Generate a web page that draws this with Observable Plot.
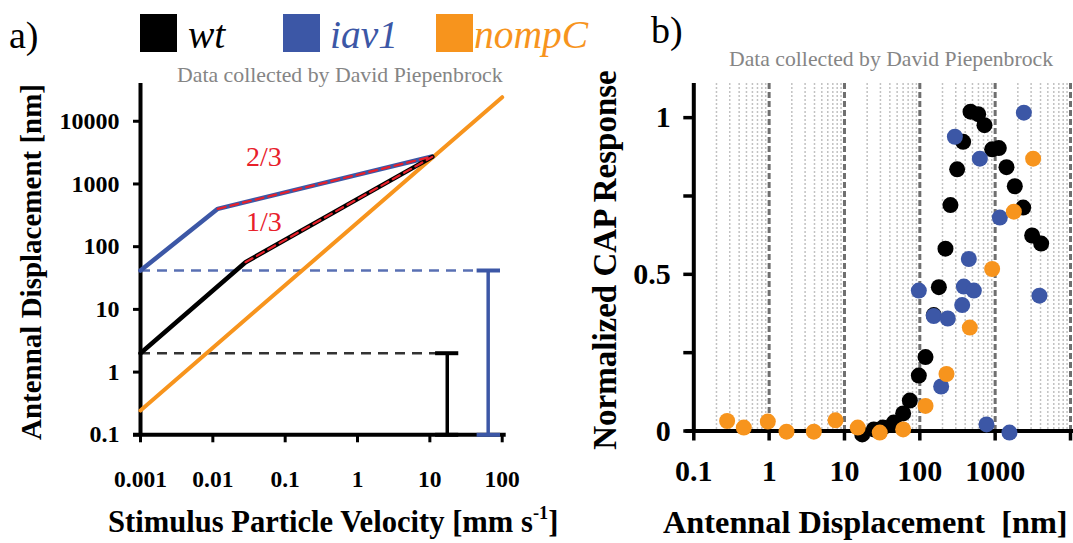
<!DOCTYPE html>
<html><head><meta charset="utf-8">
<script src="https://cdn.jsdelivr.net/npm/d3@7"></script>
<script src="https://cdn.jsdelivr.net/npm/@observablehq/plot@0.6"></script>
<style>
body{margin:0;background:#fff;}
#fig{position:relative;width:1073px;height:543px;overflow:hidden;font-family:"Liberation Serif","Times New Roman",serif;background:#fff;}
#fig svg{position:absolute;top:0;overflow:visible;}
#fig svg.panelA g[aria-label="y-axis tick label"]{font-size:24px;}
#fig svg.panelA g[aria-label="x-axis tick label"]{font-size:23.5px;}
#fig svg.panelB g[aria-label="y-axis tick label"],#fig svg.panelB g[aria-label="x-axis tick label"]{font-size:30px;}
.t{position:absolute;white-space:pre;line-height:1;}
</style></head><body><div id="fig"></div>
<script>
// ---------- legend ----------
const seriesNames = ["wt", "iav1", "nompC"];
const seriesColors = ["#000000", "#3c57a6", "#f7941d"];
const slopeColor = "#e8202a";

// ---------- panel a: antennal displacement vs particle velocity ----------
const velWt = [0.001, 0.0283, 10.8];
const dispWt = [2.0, 56.5, 2700];
const velIav1 = [0.001, 0.0117, 10.8];
const dispIav1 = [41.7, 401, 2737];
const velNompC = [0.001, 100];
const dispNompC = [0.244, 24150];
const thresholdWt = 2.0;
const thresholdIav1 = 41.7;
const thresholdEndWt = 25;
const thresholdEndIav1 = 45;
const barWtX = 17.4, barWtCaps = [12.0, 25.1];
const barIav1X = 64, barIav1Caps = [45, 94.8];
const slopeTexts = ["2/3", "1/3"];
const slopeVel = [0.0507, 0.0507];
const slopeDisp = [2700, 245];
const velTicks = [0.001, 0.01, 0.1, 1, 10, 100];
const velTickLabels = ["0.001", "0.01", "0.1", "1", "10", "100"];
const dispTicks = [0.1, 1, 10, 100, 1000, 10000];
const dispTickLabels = ["0.1", "1", "10", "100", "1000", "10000"];

// ---------- panel b: normalized CAP response vs displacement ----------
const wtDisp = [17.2, 24.5, 32.3, 45.2, 60.1, 73.7, 97, 119, 153, 179, 219, 255, 313, 376, 471, 595, 721, 912, 1119, 1414, 1823, 2353, 3097, 4080];
const wtCap  = [-0.011, 0.005, 0.011, 0.027, 0.056, 0.097, 0.177, 0.236, 0.37, 0.459, 0.582, 0.721, 0.835, 0.923, 1.019, 1.011, 0.976, 0.899, 0.903, 0.842, 0.781, 0.713, 0.624, 0.598];
const iavDisp = [97, 153, 235, 365, 384, 521, 447, 292, 626, 1153, 2404, 3873, 192, 767, 1549];
const iavCap  = [0.448, 0.367, 0.359, 0.402, 0.461, 0.448, 0.549, 0.939, 0.869, 0.681, 1.016, 0.432, 0.142, 0.021, -0.005];
const nompDisp = [0.277, 0.461, 0.96, 1.70, 3.92, 7.6, 15.0, 29.4, 60.1, 119, 226, 461, 912, 1770, 3192];
const nompCap  = [0.032, 0.011, 0.030, -0.002, -0.002, 0.034, 0.011, -0.005, 0.005, 0.080, 0.182, 0.330, 0.517, 0.700, 0.869];
const bXTicks = [0.1, 1, 10, 100, 1000, 10000];
const bXTickLabels = ["0.1", "1", "10", "100", "1000", ""];
const capTicks = [0, 0.25, 0.5, 0.75, 1];
const capTickLabels = ["0", "", "0.5", "", "1"];

const rows = (xs, ys) => xs.map((x, i) => ({x, y: ys[i]}));
const fig = document.getElementById("fig");
const FONT = "Liberation Serif";

// ---------- panel a plot ----------
const wtRows = rows(velWt, dispWt);
const iavRows = rows(velIav1, dispIav1);
const nompRows = rows(velNompC, dispNompC);
const plotA = Plot.plot({
  width: 540, height: 543,
  marginLeft: 140, marginRight: 38.3, marginTop: 83, marginBottom: 108.7,
  x: {type: "log", domain: [0.001, 100], label: null},
  y: {type: "log", domain: [0.1, 40000], label: null},
  className: "panelA",
  style: {fontFamily: FONT, fontWeight: "bold", background: "transparent", color: "#000"},
  marks: [
    Plot.axisX(velTicks, {tickSize: 8, tickPadding: 28, strokeWidth: 3, fontSize: 23.5, label: null,
      tickFormat: d => velTickLabels[velTicks.indexOf(d)]}),
    Plot.axisY(dispTicks, {tickSize: 7, tickPadding: 14, strokeWidth: 3, fontSize: 24, label: null,
      tickFormat: d => dispTickLabels[dispTicks.indexOf(d)]}),
    Plot.ruleX([velTicks[0]], {stroke: "#000", strokeWidth: 4, insetBottom: -2}),
    Plot.ruleY([dispTicks[0]], {stroke: "#000", strokeWidth: 4, insetLeft: -7, insetRight: -4}),
    // threshold dashed lines
    Plot.ruleY([thresholdIav1], {x1: velIav1[0], x2: thresholdEndIav1, stroke: seriesColors[1], strokeOpacity: 0.85, strokeWidth: 2.5, strokeDasharray: "10,7"}),
    Plot.ruleY([thresholdWt], {x1: velWt[0], x2: thresholdEndWt, stroke: "#333", strokeWidth: 2.5, strokeDasharray: "10,7"}),
    // lines
    Plot.line(nompRows, {x: "x", y: "y", stroke: seriesColors[2], strokeWidth: 4}),
    Plot.line(iavRows, {x: "x", y: "y", stroke: seriesColors[1], strokeWidth: 4.5}),
    Plot.line(wtRows, {x: "x", y: "y", stroke: seriesColors[0], strokeWidth: 4.5}),
    Plot.line(iavRows.slice(1), {x: "x", y: "y", stroke: slopeColor, strokeWidth: 2.2, strokeDasharray: "8,5"}),
    Plot.line(wtRows.slice(1), {x: "x", y: "y", stroke: slopeColor, strokeWidth: 2.2, strokeDasharray: "8,5"}),
    // error bars
    Plot.ruleX([barWtX], {y1: dispTicks[0], y2: thresholdWt, stroke: "#000", strokeWidth: 3.5}),
    Plot.ruleY([thresholdWt, dispTicks[0]], {x1: barWtCaps[0], x2: barWtCaps[1], stroke: "#000", strokeWidth: 4}),
    Plot.ruleX([barIav1X], {y1: dispTicks[0], y2: thresholdIav1, stroke: seriesColors[1], strokeWidth: 3.5}),
    Plot.ruleY([thresholdIav1, dispTicks[0]], {x1: barIav1Caps[0], x2: barIav1Caps[1], stroke: seriesColors[1], strokeWidth: 4}),
    // slope labels
    Plot.text(slopeTexts.map((s, i) => ({s, x: slopeVel[i], y: slopeDisp[i]})),
      {x: "x", y: "y", text: "s", fill: slopeColor, fontSize: 28, fontWeight: "normal", fontFamily: FONT})
  ]
});
plotA.style.left = "0px";
fig.appendChild(plotA);

// ---------- panel b plot ----------
const minorGrid = d3.scaleLog().domain([0.1, 10000]).ticks()
  .filter(v => Math.abs(Math.log10(v) - Math.round(Math.log10(v))) > 1e-6);
const majorGrid = bXTicks.slice(1);
const plotB = Plot.plot({
  width: 453, height: 543,
  marginLeft: 73.3, marginRight: 3, marginTop: 83, marginBottom: 112.5,
  x: {type: "log", domain: [0.1, 10000], label: null},
  y: {domain: [0, 1.109], label: null},
  className: "panelB",
  style: {fontFamily: FONT, fontWeight: "bold", background: "transparent", color: "#000"},
  marks: [
    Plot.ruleX(minorGrid, {stroke: "#c2c2c2", strokeWidth: 1.5, strokeDasharray: "2,2"}),
    Plot.ruleX(majorGrid, {stroke: "#6f6f6f", strokeWidth: 3, strokeDasharray: "6,3"}),
    Plot.axisX(bXTicks, {tickSize: 10, tickPadding: 19, strokeWidth: 3.5, fontSize: 30, label: null,
      tickFormat: d => bXTickLabels[bXTicks.indexOf(d)]}),
    Plot.axisY(capTicks, {tickSize: 10, tickPadding: 13, strokeWidth: 3.5, fontSize: 30, label: null,
      tickFormat: d => capTickLabels[capTicks.indexOf(d)]}),
    Plot.ruleX([bXTicks[0]], {stroke: "#000", strokeWidth: 4, insetBottom: -2}),
    Plot.ruleY([capTicks[0]], {stroke: "#000", strokeWidth: 4, insetLeft: -8, insetRight: -3}),
    Plot.dot(rows(wtDisp, wtCap), {x: "x", y: "y", r: 8, fill: seriesColors[0]}),
    Plot.dot(rows(iavDisp, iavCap), {x: "x", y: "y", r: 8, fill: seriesColors[1]}),
    Plot.dot(rows(nompDisp, nompCap), {x: "x", y: "y", r: 8, fill: seriesColors[2]})
  ]
});
plotB.style.left = "620px";
fig.appendChild(plotB);

// ---------- HTML text ----------
function addText(html, o) {
  const d = document.createElement("div");
  d.className = "t";
  d.innerHTML = html;
  d.style.fontSize = o.size + "px";
  d.style.fontWeight = o.weight || "normal";
  d.style.fontStyle = o.italic ? "italic" : "normal";
  d.style.color = o.color || "#000";
  if (o.rotate) {
    d.style.left = o.cx + "px";
    d.style.top = o.cy + "px";
    d.style.transform = "translate(-50%,-50%) rotate(-90deg)";
  } else {
    d.style.left = o.left + "px";
    d.style.top = (o.baseline - 0.8375 * o.size) + "px";
  }
  fig.appendChild(d);
  return d;
}
function addSwatch(left, top, w, h, color) {
  const d = document.createElement("div");
  d.style.cssText = `position:absolute;left:${left}px;top:${top}px;width:${w}px;height:${h}px;background:${color};`;
  fig.appendChild(d);
}
addText("a)", {left: 9, baseline: 48, size: 38});
addText("b)", {left: 651, baseline: 43, size: 38});
const legendSwatchX = [140, 283, 436];
const legendTextX = [188, 330, 474];
seriesNames.forEach((n, i) => {
  addSwatch(legendSwatchX[i], 14, 37, 38, seriesColors[i]);
  addText(n, {left: legendTextX[i], baseline: 49, size: 39.5, italic: true, color: seriesColors[i]});
});
addText("Data collected by David Piepenbrock", {left: 177, baseline: 83, size: 21.8, color: "#858585"});
addText("Data collected by David Piepenbrock", {left: 729, baseline: 67, size: 21.7, color: "#858585"});
addText("Antennal Displacement [nm]", {rotate: true, cx: 31, cy: 262, size: 29, weight: "bold"});
addText("Normalized CAP Response", {rotate: true, cx: 605, cy: 260, size: 33, weight: "bold"});
addText('Stimulus Particle Velocity [mm s<span style="font-size:60%;position:relative;top:-0.75em">-1</span>]', {left: 108, baseline: 533, size: 30.6, weight: "bold"});
addText("Antennal Displacement  [nm]", {left: 663, baseline: 533, size: 32.3, weight: "bold"});
</script></body></html>
